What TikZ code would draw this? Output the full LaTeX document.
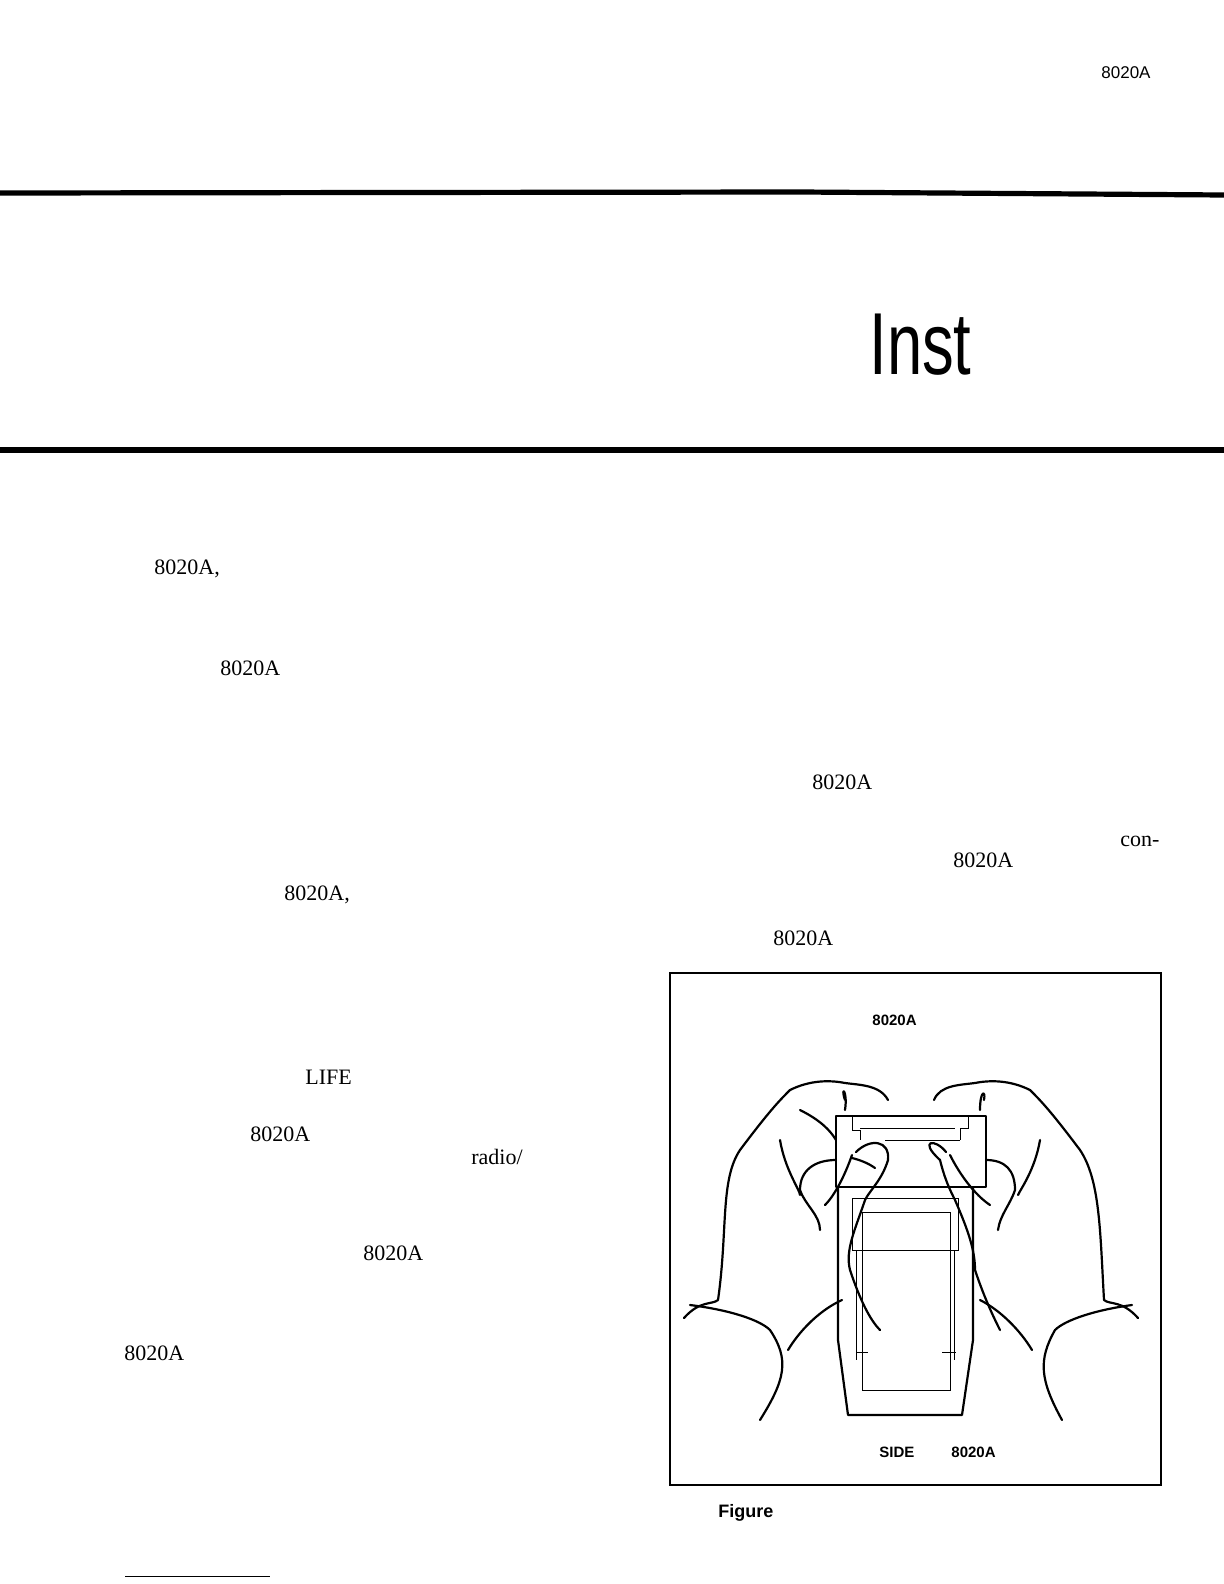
\documentclass[tikz,border=0pt]{standalone}
\usepackage{fontspec}
\setmainfont{Liberation Serif}
\newfontfamily\hsans{Liberation Sans}
\begin{document}
\begin{tikzpicture}[x=0.5pt,y=-0.5pt,
  body/.style={font=\fontsize{11}{13}\selectfont,anchor=base west,inner sep=0},
  lab/.style={font=\hsans\bfseries\fontsize{7.5}{9}\selectfont,anchor=base west,inner sep=0},
  hand/.style={line width=1.1pt,line join=round,line cap=round},
  thin/.style={line width=0.4pt}]
\useasboundingbox (0,0) rectangle (1224,1584);
% header
\node[lab,font=\hsans\fontsize{8.5}{10}\selectfont] (hdr) at (1101,79) {8020A};
\draw[line width=2.6pt] (0,193) -- (800,192) -- (1224,195);
\node[anchor=base west,inner sep=0,font=\hsans\fontsize{44}{50}\selectfont] (inst) at (869,374) {\scalebox{0.72}[1]{Inst}};
\draw[line width=2.6pt] (0,450) -- (1224,450);
% body texts
\node[body] (t1) at (154,574) {8020A,};
\node[body] (t2) at (220,675) {8020A};
\node[body] (t3) at (812,789) {8020A};
\node[body] (t4) at (1120,846) {con-};
\node[body] (t5) at (953,867) {8020A};
\node[body] (t6) at (284,900) {8020A,};
\node[body] (t7) at (773,945) {8020A};
\node[body] (t8) at (305,1084) {LIFE};
\node[body] (t9) at (250,1141) {8020A};
\node[body] (t10) at (471,1164) {radio/};
\node[body] (t11) at (363,1260) {8020A};
\node[body] (t12) at (124,1360) {8020A};
\draw[thin] (125,1576) -- (270,1576);
% figure frame
\draw[line width=0.9pt] (670,973) rectangle (1161,1485);
\node[lab] (f1) at (872,1025) {8020A};
\node[lab] (f2) at (879,1457) {SIDE};
\node[lab] (f3) at (951,1457) {8020A};
\node[lab,font=\hsans\bfseries\fontsize{9}{11}\selectfont] (fig) at (718,1517) {Figure};
% meter body
\draw[hand] (838,1186) -- (838,1340) -- (848,1415) -- (962,1415) -- (973,1340) -- (973,1186);
\draw[thin] (852,1198) rectangle (958,1250);
\draw[thin] (862,1212) rectangle (950,1390);
\draw[thin] (856,1250) -- (856,1360) (954,1250) -- (954,1360);
\draw[thin] (856,1352) -- (868,1352) (942,1352) -- (956,1352);
% battery door
\draw[hand,fill=white] (836,1116) rectangle (986,1187);
\draw[thin] (852,1116) -- (852,1130) -- (860,1130) -- (860,1140) (968,1116) -- (968,1128) -- (960,1128) -- (960,1140);
\draw[thin] (860,1128) -- (955,1128) (885,1140) -- (960,1140);
% left hand
\draw[hand] (684,1318) .. controls (700,1300) and (712,1305) .. (718,1300)
  .. controls (728,1230) and (720,1180) .. (740,1150)
  .. controls (770,1110) and (780,1100) .. (790,1090)
  .. controls (810,1080) and (830,1080) .. (845,1083)
  .. controls (860,1085) and (880,1085) .. (888,1100);
\draw[hand] (845,1100) .. controls (840,1085) and (848,1090) .. (845,1110);
\draw[hand] (800,1110) .. controls (820,1120) and (830,1130) .. (836,1140);
\draw[hand] (836,1160) .. controls (815,1160) and (800,1170) .. (800,1190)
  .. controls (805,1205) and (820,1215) .. (820,1230);
\draw[hand] (856,1152) .. controls (870,1138) and (890,1140) .. (888,1160)
  .. controls (882,1180) and (870,1190) .. (865,1200)
  .. controls (855,1230) and (845,1250) .. (850,1270)
  .. controls (860,1300) and (870,1320) .. (880,1330);
\draw[hand] (852,1155) .. controls (845,1175) and (835,1195) .. (825,1205);
\draw[hand] (852,1158) .. controls (860,1160) and (868,1163) .. (875,1168);
\draw[hand] (780,1140) .. controls (785,1170) and (800,1190) .. (800,1195);
\draw[hand] (690,1305) .. controls (730,1310) and (760,1320) .. (770,1330)
  .. controls (790,1360) and (785,1380) .. (760,1420);
\draw[hand] (842,1300) .. controls (820,1310) and (800,1330) .. (788,1350);
% right hand
\draw[hand] (1138,1318) .. controls (1122,1300) and (1110,1305) .. (1104,1300)
  .. controls (1100,1230) and (1100,1180) .. (1080,1150)
  .. controls (1050,1110) and (1040,1100) .. (1030,1090)
  .. controls (1010,1080) and (990,1080) .. (975,1083)
  .. controls (960,1085) and (940,1085) .. (934,1100);
\draw[hand] (984,1100) .. controls (986,1090) and (980,1090) .. (980,1110);
\draw[hand] (986,1160) .. controls (1005,1160) and (1015,1170) .. (1015,1190)
  .. controls (1010,1205) and (1000,1215) .. (998,1230);
\draw[hand] (946,1152) .. controls (935,1138) and (918,1140) .. (940,1160)
  .. controls (945,1180) and (950,1190) .. (955,1200)
  .. controls (968,1230) and (975,1250) .. (975,1270)
  .. controls (985,1300) and (995,1320) .. (1000,1330);
\draw[hand] (950,1155) .. controls (960,1175) and (975,1195) .. (990,1205);
\draw[hand] (1040,1140) .. controls (1035,1170) and (1020,1190) .. (1018,1195);
\draw[hand] (1132,1305) .. controls (1095,1310) and (1065,1320) .. (1055,1330)
  .. controls (1038,1360) and (1040,1380) .. (1062,1420);
\draw[hand] (980,1300) .. controls (1000,1310) and (1020,1330) .. (1032,1350);
\end{tikzpicture}
\end{document}
